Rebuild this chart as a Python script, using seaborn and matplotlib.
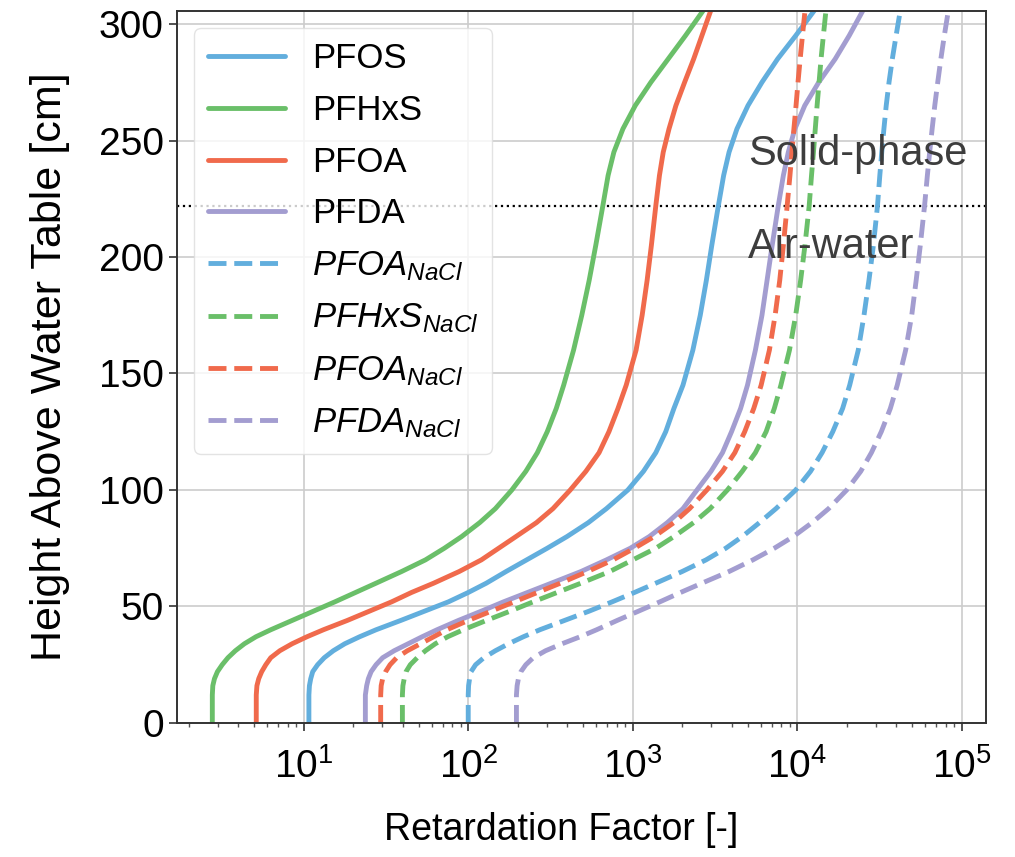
import numpy as np
import pandas as pd
import matplotlib
matplotlib.use("Agg")
import matplotlib.pyplot as plt
import seaborn as sns

# heights above the water table [cm], shared by every curve
height_cm = [0, 12, 16, 19, 22, 25, 28, 31, 34, 37, 40, 44, 48, 52, 56, 60, 65, 70, 75, 80,
             86, 92, 100, 108, 116, 125, 135, 145, 160, 175, 190, 205, 222, 235, 245, 255,
             265, 275, 285, 295, 306]

# retardation factors, one value per height
r_pfos = [10.76, 10.76, 10.84, 11.04, 11.35, 12.16, 13.34, 15.14, 17.78, 21.88, 27.54, 38.90,
          54.33, 75.86, 100.0, 128.8, 169.8, 226.5, 302.0, 398.1, 537.0, 691.8, 933.3,
          1161, 1380, 1585, 1778, 2018, 2317, 2570, 2799, 3020, 3311, 3565, 3846, 4295,
          5012, 6095, 7586, 9772, 12740]
r_pfhxs = [2.786, 2.786, 2.805, 2.871, 2.992, 3.199, 3.467, 3.846, 4.365, 5.129, 6.310, 8.511,
           11.48, 15.49, 20.65, 27.54, 39.36, 54.95, 71.61, 91.2, 117.5, 146.2, 184.1,
           223.9, 263.0, 302.0, 342.8, 380.2, 436.5, 489.8, 543.3, 595.7, 657.7, 707.9,
           767.4, 871.0, 1035, 1288, 1641, 2089, 2692]
r_pfoa = [5.152, 5.152, 5.200, 5.333, 5.559, 5.888, 6.310, 7.161, 8.511, 10.47, 13.18, 18.41,
          25.12, 34.28, 45.19, 61.66, 88.10, 120.2, 153.1, 195.0, 260.0, 327.3, 416.9,
          518.8, 623.7, 716.1, 812.8, 912.0, 1047, 1140, 1222, 1297, 1380, 1452, 1531,
          1660, 1828, 2065, 2344, 2630, 2985]
r_pfda = [23.71, 23.71, 24.15, 24.72, 25.70, 27.54, 30.20, 35.48, 43.15, 52.48, 64.57, 87.10,
          120.2, 164.1, 229.1, 319.9, 484.2, 691.8, 966.1, 1259, 1622, 2018, 2455, 2985,
          3508, 3981, 4519, 4977, 5559, 6095, 6546, 7031, 7656, 8222, 8810, 9661, 11090,
          13490, 16980, 20650, 25120]
r_pfos_nacl = [100.0, 100.0, 100.5, 101.9, 104.0, 110.9, 124.5, 146.2, 175.8, 216.3, 272.3,
               384.6, 543.3, 749.9, 1023, 1380, 1995, 2786, 3673, 4624, 5888, 7413, 9772,
               12020, 14130, 16410, 18840, 20800, 23440, 25410, 27230, 28970, 30690, 31700,
               32580, 33570, 34670, 36060, 37760, 39810, 42270]
r_pfhxs_nacl = [39.81, 39.81, 40.09, 40.83, 41.88, 44.46, 48.98, 54.95, 63.10, 74.99, 93.33,
                128.8, 179.9, 248.3, 346.7, 484.2, 724.4, 1000, 1380, 1778, 2344, 2951, 3758,
                4624, 5559, 6457, 7244, 7943, 8954, 9772, 10470, 11120, 11800, 12190, 12530,
                12850, 13180, 13550, 13930, 14390, 14930]
r_pfoa_nacl = [29.38, 29.38, 29.58, 30.20, 31.48, 33.50, 36.73, 42.66, 51.29, 61.66, 74.13,
               100.0, 138.0, 190.5, 263.0, 363.1, 530.9, 758.6, 1023, 1349, 1778, 2213, 2818,
               3508, 4169, 4786, 5433, 6026, 6761, 7328, 7816, 8222, 8670, 9016, 9268, 9528,
               9817, 10090, 10400, 10740, 11140]
r_pfda_nacl = [196.3, 196.3, 198.2, 201.8, 208.9, 223.9, 248.3, 295.1, 371.5, 478.6, 602.6,
               803.5, 1084, 1462, 1950, 2630, 3846, 5370, 7244, 9441, 12300, 15490, 19950,
               24270, 28180, 32360, 36730, 40460, 45500, 49550, 52720, 55850, 59290, 61660,
               63680, 65920, 68390, 71290, 74470, 78160, 82800]

labels = ["PFOS", "PFHxS", "PFOA", "PFDA",
          r"$PFOA_{NaCl}$", r"$PFHxS_{NaCl}$", r"$PFOA_{NaCl}$", r"$PFDA_{NaCl}$"]
rfactors = [r_pfos, r_pfhxs, r_pfoa, r_pfda, r_pfos_nacl, r_pfhxs_nacl, r_pfoa_nacl, r_pfda_nacl]

blue, green, red, purple = "#62AEDD", "#6ABF69", "#F06A4C", "#A39DD0"
colors = [blue, green, red, purple] * 2
styles = ["-"] * 4 + ["--"] * 4

sns.set_style("whitegrid")
plt.rcParams["font.family"] = ["Liberation Sans", "DejaVu Sans"]
plt.rcParams["mathtext.fontset"] = "custom"
plt.rcParams["mathtext.rm"] = "Liberation Sans"
plt.rcParams["mathtext.it"] = "Liberation Sans:italic"
plt.rcParams["mathtext.bf"] = "Liberation Sans:bold"
for k in ["text.color", "axes.labelcolor", "xtick.color", "ytick.color"]:
    plt.rcParams[k] = "black"

fig, ax = plt.subplots(figsize=(10.15, 8.57), dpi=100)
fig.subplots_adjust(left=0.1744, right=0.9714, bottom=0.1564, top=0.9872)

for r, lab, c, ls in zip(rfactors, labels, colors, styles):
    df = pd.DataFrame({"R": r, "h": height_cm})
    sns.lineplot(data=df, x="R", y="h", orient="y", estimator=None, sort=False,
                 color=c, linestyle=ls, lw=3.5, label=lab, ax=ax)

ax.axhline(222, color="black", ls=":", lw=1.6, zorder=1)
ax.text(5000, 239.6, "Solid-phase", fontsize=30, color="#3d3d3d", ha="left", va="baseline", zorder=5)
ax.text(5000, 199.4, "Air-water", fontsize=30, color="#3d3d3d", ha="left", va="baseline", zorder=5)

ax.set_xscale("log")
ax.set_xlim(1.7, 1.4e5)
ax.set_ylim(0, 305.6)
ax.set_yticks([0, 50, 100, 150, 200, 250, 300])
ax.set_xlabel("Retardation Factor [-]", fontsize=27, labelpad=19)
ax.xaxis.label.set_x(0.475)
ax.set_ylabel("Height Above Water Table [cm]", fontsize=31, labelpad=21)

ax.grid(True, which="major", color="#cccccc", lw=1.2)
ax.grid(False, which="minor")
ax.tick_params(axis="both", which="major", labelsize=28, length=6, width=1.2,
               direction="out", color="#333333", left=True, bottom=True)
ax.tick_params(axis="x", which="major", pad=12)
ax.tick_params(axis="x", which="minor", length=3, width=1, direction="out",
               color="#555555", bottom=True)
for s in ax.spines.values():
    s.set_color("#333333")
    s.set_linewidth(1.4)

ax.legend(loc="upper left", fontsize=25, handlelength=2.2, handletextpad=0.78,
          frameon=True, framealpha=0.8, edgecolor="#dddddd", labelspacing=0.54)

fig.savefig("out.png", dpi=100)
